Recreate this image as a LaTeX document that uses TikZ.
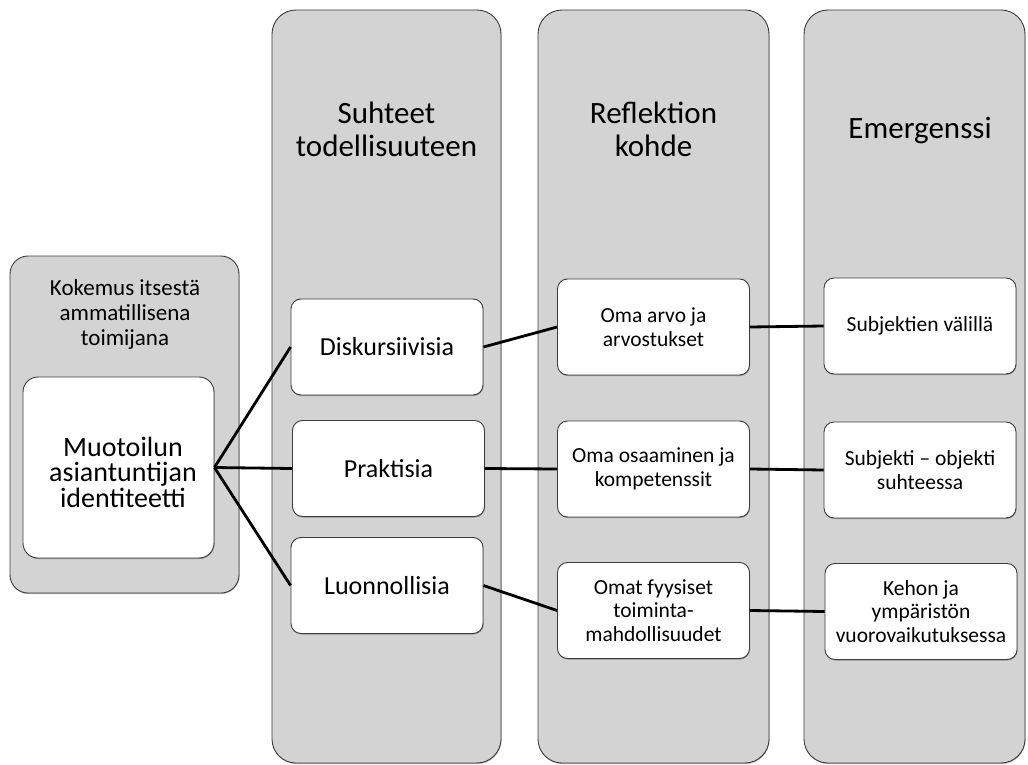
\documentclass[tikz,border=0pt]{standalone}
\usepackage{fontspec}
\setmainfont{Carlito}
\usetikzlibrary{shadows}
\definecolor{panel}{RGB}{211,211,211}
\definecolor{edge}{RGB}{60,60,60}
\begin{document}
\begin{tikzpicture}[x=1pt,y=-1pt,
  shd/.style={drop shadow={shadow xshift=0.5pt,shadow yshift=-1pt,opacity=0.3,fill=black}},
  col/.style={draw=edge,fill=panel,rounded corners=24pt,line width=0.9pt,inner sep=0pt,shd},
  whitebox/.style={draw=edge,fill=white,rounded corners=10pt,line width=0.9pt,inner sep=0pt,
     minimum width=192pt,minimum height=96pt,align=center,shd},
  title/.style={align=center,font=\fontsize{31}{33}\selectfont},
  big/.style={font=\fontsize{26}{28}\selectfont},
  small/.style={font=\fontsize{21.5}{23.5}\selectfont},
  conn/.style={draw=black,line width=2.8pt}]
\useasboundingbox (0,0) rectangle (1028,765);
% columns
\node[col,minimum width=229pt,minimum height=753pt] (c1) at (386.5,386.5) {};
\node[col,minimum width=231pt,minimum height=753pt] (c2) at (653.5,386.5) {};
\node[col,minimum width=221pt,minimum height=753pt] (c3) at (914.5,386.5) {};
% titles
\node[title] (t1) at (386.5,129) {Suhteet\\todellisuuteen};
\node[title] (t2) at (653.5,129) {Reflektion\\kohde};
\node[title] (t3) at (920,131) {Emergenssi};
% left box
\node[col,rounded corners=18pt,minimum width=229pt,minimum height=337pt] (lb) at (124.5,424.5) {};
\node[align=center,font=\fontsize{23}{25}\selectfont] (lt) at (125,314) {Kokemus itsestä\\ammatillisena\\toimijana};
\node[draw=edge,fill=white,rounded corners=15pt,line width=0.9pt,inner sep=0pt,shd,
      minimum width=191pt,minimum height=181pt,align=center,font=\fontsize{28}{25.5}\selectfont]
      (m) at (118.5,467.5) {};
\node[align=center,font=\fontsize{28}{25.5}\selectfont] (mt) at (123,472) {Muotoilun\\asiantuntijan\\identiteetti};
% column 1 boxes
\node[whitebox,big] (d1) at (387,347) {Diskursiivisia};
\node[whitebox,big] (d2) at (388.5,468.5) {Praktisia};
\node[whitebox,big] (d3) at (387,585.5) {Luonnollisia};
% column 2 boxes
\node[whitebox,small] (r1) at (653.5,327) {Oma arvo ja\\arvostukset};
\node[whitebox,small] (r2) at (653.5,469) {Oma osaaminen ja\\kompetenssit};
\node[whitebox,small] (r3) at (653.5,610.5) {Omat fyysiset\\toiminta-\\mahdollisuudet};
% column 3 boxes
\node[whitebox,small] (e1) at (920,326) {Subjektien välillä};
\node[whitebox,small] (e2) at (920,470) {Subjekti – objekti\\suhteessa};
\node[whitebox,small] (e3) at (921,611.5) {Kehon ja\\ympäristön\\vuorovaikutuksessa};
% connectors
\draw[conn] (m.east) -- (d1.west);
\draw[conn] (m.east) -- (d2.west);
\draw[conn] (m.east) -- (d3.west);
\draw[conn] (d1.east) -- (r1.west);
\draw[conn] (d2.east) -- (r2.west);
\draw[conn] (d3.east) -- (r3.west);
\draw[conn] (r1.east) -- (e1.west);
\draw[conn] (r2.east) -- (e2.west);
\draw[conn] (r3.east) -- (e3.west);
\end{tikzpicture}
\end{document}
